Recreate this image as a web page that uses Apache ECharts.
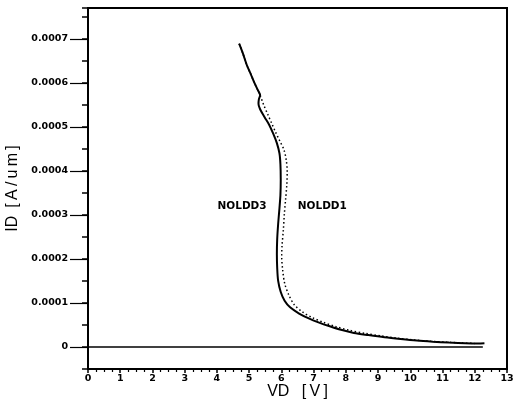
<!DOCTYPE html>
<html><head><meta charset="utf-8">
<script src="https://cdn.jsdelivr.net/npm/echarts@6/dist/echarts.min.js"></script>
<style>html,body{margin:0;padding:0;background:#fff}#c{width:514px;height:403px}</style>
</head><body><div id="c"></div>
<script>
// NOLDD3 (solid)
const vd3 = [4.69,4.80,4.93,5.05,5.15,5.28,5.34,5.30,5.29,5.34,5.48,5.62,5.75,5.86,5.94,5.97,5.98,5.97,5.94,5.90,5.87,5.86,5.87,5.90,5.98,6.10,6.27,6.55,6.85,7.15,7.5,7.85,8.25,8.7,9.2,9.7,10.2,10.7,11.2,11.7,12.1,12.3];
const id3 = [6.89e-4,6.68e-4,6.40e-4,6.20e-4,6.02e-4,5.82e-4,5.72e-4,5.62e-4,5.52e-4,5.40e-4,5.22e-4,5.05e-4,4.84e-4,4.63e-4,4.40e-4,4.15e-4,3.80e-4,3.45e-4,3.15e-4,2.80e-4,2.45e-4,2.10e-4,1.80e-4,1.50e-4,1.25e-4,1.05e-4,9.0e-5,7.6e-5,6.5e-5,5.6e-5,4.7e-5,3.9e-5,3.2e-5,2.7e-5,2.2e-5,1.8e-5,1.45e-5,1.2e-5,1.0e-5,8.5e-6,8.0e-6,8.5e-6];
// NOLDD1 (dotted)
const vd1 = [4.69,4.80,4.93,5.05,5.15,5.28,5.34,5.45,5.58,5.70,5.82,5.95,6.08,6.15,6.18,6.17,6.13,6.09,6.06,6.02,6.01,6.04,6.10,6.22,6.40,6.65,6.95,7.3,7.7,8.1,8.6,9.1,9.6,10.1,10.6,11.1,11.6,12.0];
const id1 = [6.89e-4,6.68e-4,6.40e-4,6.20e-4,6.02e-4,5.82e-4,5.72e-4,5.50e-4,5.28e-4,5.08e-4,4.88e-4,4.68e-4,4.48e-4,4.25e-4,4.00e-4,3.70e-4,3.35e-4,3.00e-4,2.65e-4,2.30e-4,2.05e-4,1.75e-4,1.45e-4,1.20e-4,9.6e-5,8.0e-5,6.7e-5,5.6e-5,4.6e-5,3.8e-5,3.1e-5,2.5e-5,2.0e-5,1.6e-5,1.3e-5,1.1e-5,9e-6,8e-6];
// zero reference line
const zeroVd = [0, 12.25];
const zeroId = [0, 0];
// curve labels
const curveNames = ['NOLDD3','NOLDD1'];
const labelVd = [4.78, 7.27];
const labelId = [0.00032, 0.00032];
// axis ticks
const xTicks = [0,1,2,3,4,5,6,7,8,9,10,11,12,13];
const yTickLabels = ['0','0.0001','0.0002','0.0003','0.0004','0.0005','0.0006','0.0007'];
const xName = 'VD\u2002 [\u2009V\u2009]';
const yName = 'ID\u2002[\u2009A\u2009/\u2009u\u2009m\u2009]';

const zip = (a,b) => a.map((v,i)=>[v,b[i]]);
const chart = echarts.init(document.getElementById('c'), null, {renderer:'canvas'});
const black = '#000';
const tickFont = {fontFamily:'DejaVu Sans', fontWeight:'bold', fontSize:9.5, color:black};

chart.setOption({
  animation:false,
  backgroundColor:'#fff',
  grid:[
    {left:88, right:7, top:8, bottom:34, show:true, borderColor:black, borderWidth:2, backgroundColor:'transparent', containLabel:false, outerBoundsMode:'none'},
    {left:88, right:7, top:38.8, bottom:56, show:false, containLabel:false, outerBoundsMode:'none'}
  ],
  xAxis:[
    {gridIndex:0, type:'value', min:0, max:13, interval:1,
     name:xName, nameLocation:'middle', nameGap:15, nameMoveOverlap:false,
     nameTextStyle:{fontFamily:'Liberation Sans', fontSize:16, color:black, verticalAlign:'top'},
     axisLine:{show:true, onZero:false, lineStyle:{color:black, width:2}},
     axisTick:{show:true, length:4, lineStyle:{color:black, width:1.5}},
     minorTick:{show:true, splitNumber:4, length:3, lineStyle:{color:black, width:1.2}},
     splitLine:{show:false},
     axisLabel:Object.assign({margin:5, fontSize:9, formatter:v=>String(v)}, tickFont)},
    {gridIndex:1, type:'value', min:0, max:13, show:false}
  ],
  yAxis:[
    {gridIndex:0, type:'value', min:-0.00005, max:0.00077, interval:0.00005,
     name:yName, nameLocation:'middle', nameGap:67, nameMoveOverlap:false,
     nameTextStyle:{fontFamily:'Liberation Sans', fontSize:16, color:black},
     axisLine:{show:true, onZero:false, lineStyle:{color:black, width:2}},
     axisTick:{show:true, length:6, lineStyle:{color:black, width:1.5}},
     splitLine:{show:false},
     axisLabel:{show:false}},
    {gridIndex:1, type:'value', min:0, max:0.0007, interval:0.0001,
     axisLine:{show:false},
     axisTick:{show:true, length:18, lineStyle:{color:black, width:1.2}},
     splitLine:{show:false},
     axisLabel:Object.assign({margin:20, formatter:(v)=>{const i=Math.round(v/0.0001);return yTickLabels[i]||'';}}, tickFont)}
  ],
  series:[
    {type:'line', name:'zero', xAxisIndex:0, yAxisIndex:0, data:zip(zeroVd,zeroId), showSymbol:false,
     lineStyle:{color:black, width:1.5}, z:2},
    {type:'line', name:curveNames[0], xAxisIndex:0, yAxisIndex:0, data:zip(vd3,id3), showSymbol:false, smooth:0.3,
     lineStyle:{color:black, width:2}, z:4,
     markPoint:{symbol:'circle', symbolSize:0, silent:true,
       label:{show:true, position:'inside', formatter:'{b}', fontFamily:'DejaVu Sans', fontWeight:'bold', fontSize:10.5, color:black},
       data:curveNames.map((n,i)=>({name:n, coord:[labelVd[i], labelId[i]]}))}},
    {type:'line', name:curveNames[1], xAxisIndex:0, yAxisIndex:0, data:zip(vd1,id1), showSymbol:false, smooth:0.3,
     lineStyle:{color:black, width:1.5, type:[1.5,2.5]}, z:3}
  ]
});
</script></body></html>
